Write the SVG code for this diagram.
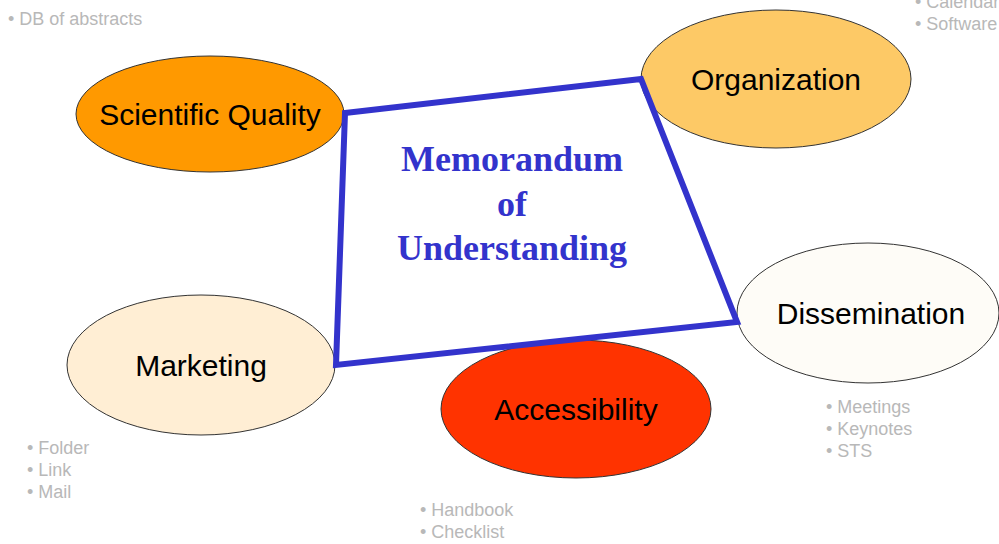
<svg xmlns="http://www.w3.org/2000/svg" width="999" height="544" viewBox="0 0 999 544">
<style>
.node{stroke:#333;stroke-width:1}
.lbl{font-family:"Liberation Sans",Arial,sans-serif;font-size:30px;fill:#000;text-anchor:middle}
.bul{font-family:"Liberation Sans",Arial,sans-serif;font-size:18px;fill:#b8b8b8}
.mou{font-family:"Liberation Serif","Times New Roman",serif;font-size:36px;font-weight:bold;fill:#3333cc;text-anchor:middle}
</style>
<rect width="999" height="544" fill="#fff"/>
<g id="scientific-quality">
<ellipse class="node" cx="210" cy="114" rx="134" ry="58" fill="#ff9900"/>
<text class="lbl" x="210" y="125">Scientific Quality</text>
</g>
<g id="organization">
<ellipse class="node" cx="776" cy="79" rx="135" ry="69" fill="#fdc966"/>
<text class="lbl" x="776" y="90">Organization</text>
</g>
<g id="dissemination">
<ellipse class="node" cx="868" cy="313" rx="131" ry="70" fill="#fefcf7"/>
<text class="lbl" x="871" y="324">Dissemination</text>
</g>
<g id="marketing">
<ellipse class="node" cx="201" cy="365" rx="134" ry="70" fill="#ffeed4"/>
<text class="lbl" x="201" y="376">Marketing</text>
</g>
<g id="accessibility">
<ellipse class="node" cx="576" cy="409" rx="135" ry="69" fill="#ff3300"/>
<text class="lbl" x="576" y="420">Accessibility</text>
</g>
<g id="connectors">
<polygon points="345,113 641,79 737,322 336,365" fill="none" stroke="#3333cc" stroke-width="6" stroke-linejoin="miter"/>
</g>
<g id="memorandum">
<text class="mou" x="512" y="171">Memorandum</text>
<text class="mou" x="512" y="216">of</text>
<text class="mou" x="512" y="260">Understanding</text>
</g>
<g id="notes">
<text class="bul" x="8" y="25">• DB of abstracts</text>
<text class="bul" x="915" y="8">• Calendar</text>
<text class="bul" x="915" y="30">• Software</text>
<text class="bul" x="826" y="413">• Meetings</text>
<text class="bul" x="826" y="435">• Keynotes</text>
<text class="bul" x="826" y="457">• STS</text>
<text class="bul" x="27" y="454">• Folder</text>
<text class="bul" x="27" y="476">• Link</text>
<text class="bul" x="27" y="498">• Mail</text>
<text class="bul" x="420" y="516">• Handbook</text>
<text class="bul" x="420" y="538">• Checklist</text>
</g>
</svg>
